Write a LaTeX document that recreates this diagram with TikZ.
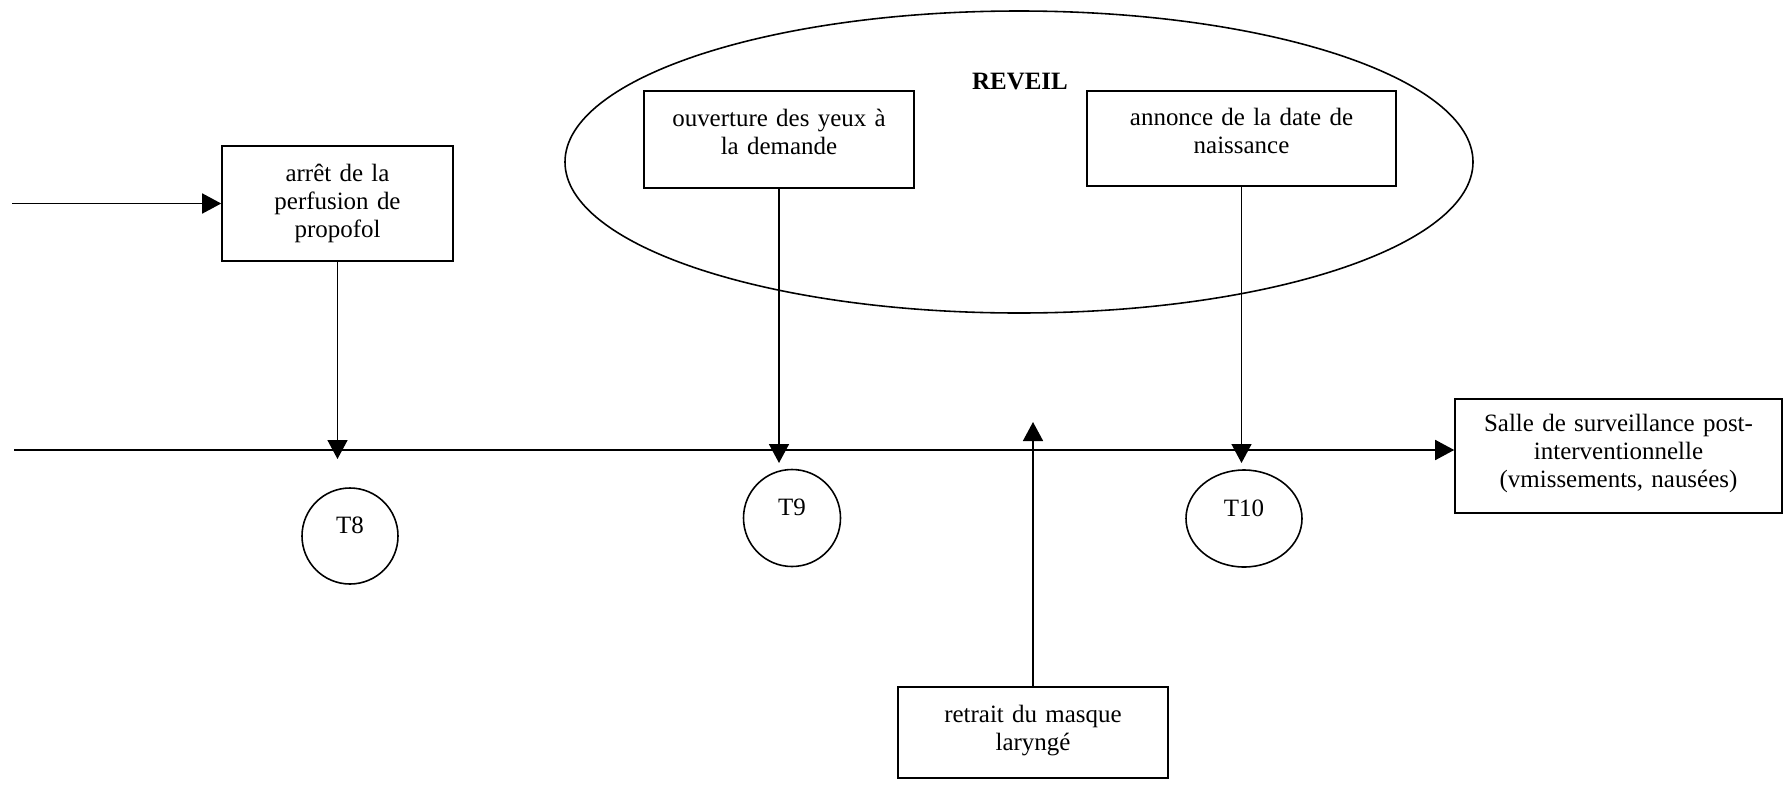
\documentclass[tikz,border=0pt]{standalone}
\usepackage{fontspec}
\setmainfont{Liberation Serif}
\usetikzlibrary{arrows.meta, shapes.geometric}

\begin{document}
\begin{tikzpicture}
            [->, >={Triangle[width=0.4cm,length=0.38cm]}, line width=0.9pt,
             font=\fontsize{14.2}{16.2}\selectfont,
             boite/.style={draw, rectangle, inner sep=0pt, align=center},
             etape/.style={draw, ellipse, inner sep=0pt, text depth=0.42cm}]
            \useasboundingbox (0, 0) rectangle (35.68, -15.70);

            % phase de reveil
            \node[draw, ellipse, minimum width=18.16cm, minimum height=6.04cm] (reveil) at (20.38, -3.24) {};
            \node (titre) at (20.40, -1.64) {\textbf{REVEIL}};

            \node[boite, text width=4.62cm, text height=0.70cm, text depth=1.60cm] (arret) at (6.75, -4.07) {arrêt de la\\perfusion de\\propofol};
            \node[boite, text width=5.40cm, text height=0.70cm, text depth=1.24cm] (ouverture) at (15.58, -2.79) {ouverture des yeux à\\la demande};
            \node[boite, text width=6.18cm, text height=0.68cm, text depth=1.22cm] (annonce) at (24.83, -2.77) {annonce de la date de\\naissance};
            \node[boite, text width=6.54cm, text height=0.64cm, text depth=1.64cm] (salle) at (32.37, -9.12) {Salle de surveillance post-\\interventionnelle\\(vmissements, nausées)};
            \node[boite, text width=5.40cm, text height=0.70cm, text depth=1.12cm] (retrait) at (20.66, -14.65) {retrait du masque\\laryngé};

            \node[etape, minimum width=1.92cm, minimum height=1.92cm] (t8) at (7.00, -10.72) {T8};
            \node[etape, minimum width=1.94cm, minimum height=1.94cm] (t9) at (15.84, -10.36) {T9};
            \node[etape, minimum width=2.32cm, minimum height=1.94cm] (t10) at (24.88, -10.37) {T10};

            \coordinate (entree) at (0.24, -4.07);
            \coordinate (depart) at (0.28, -9.00);
            \coordinate (fin8) at (arret.south |- 0,-9.18);
            \coordinate (fin9) at (ouverture.south |- 0,-9.26);
            \coordinate (fin10) at (annonce.south |- 0,-9.26);
            \coordinate (fin11) at (retrait.north |- 0,-8.44);

            \draw (entree) -- (arret);
            \draw (depart) -- (depart -| salle.west);
            \draw (arret) -- (fin8);
            \draw (ouverture) -- (fin9);
            \draw (annonce) -- (fin10);
            \draw (retrait) -- (fin11);
        \end{tikzpicture}
\end{document}
